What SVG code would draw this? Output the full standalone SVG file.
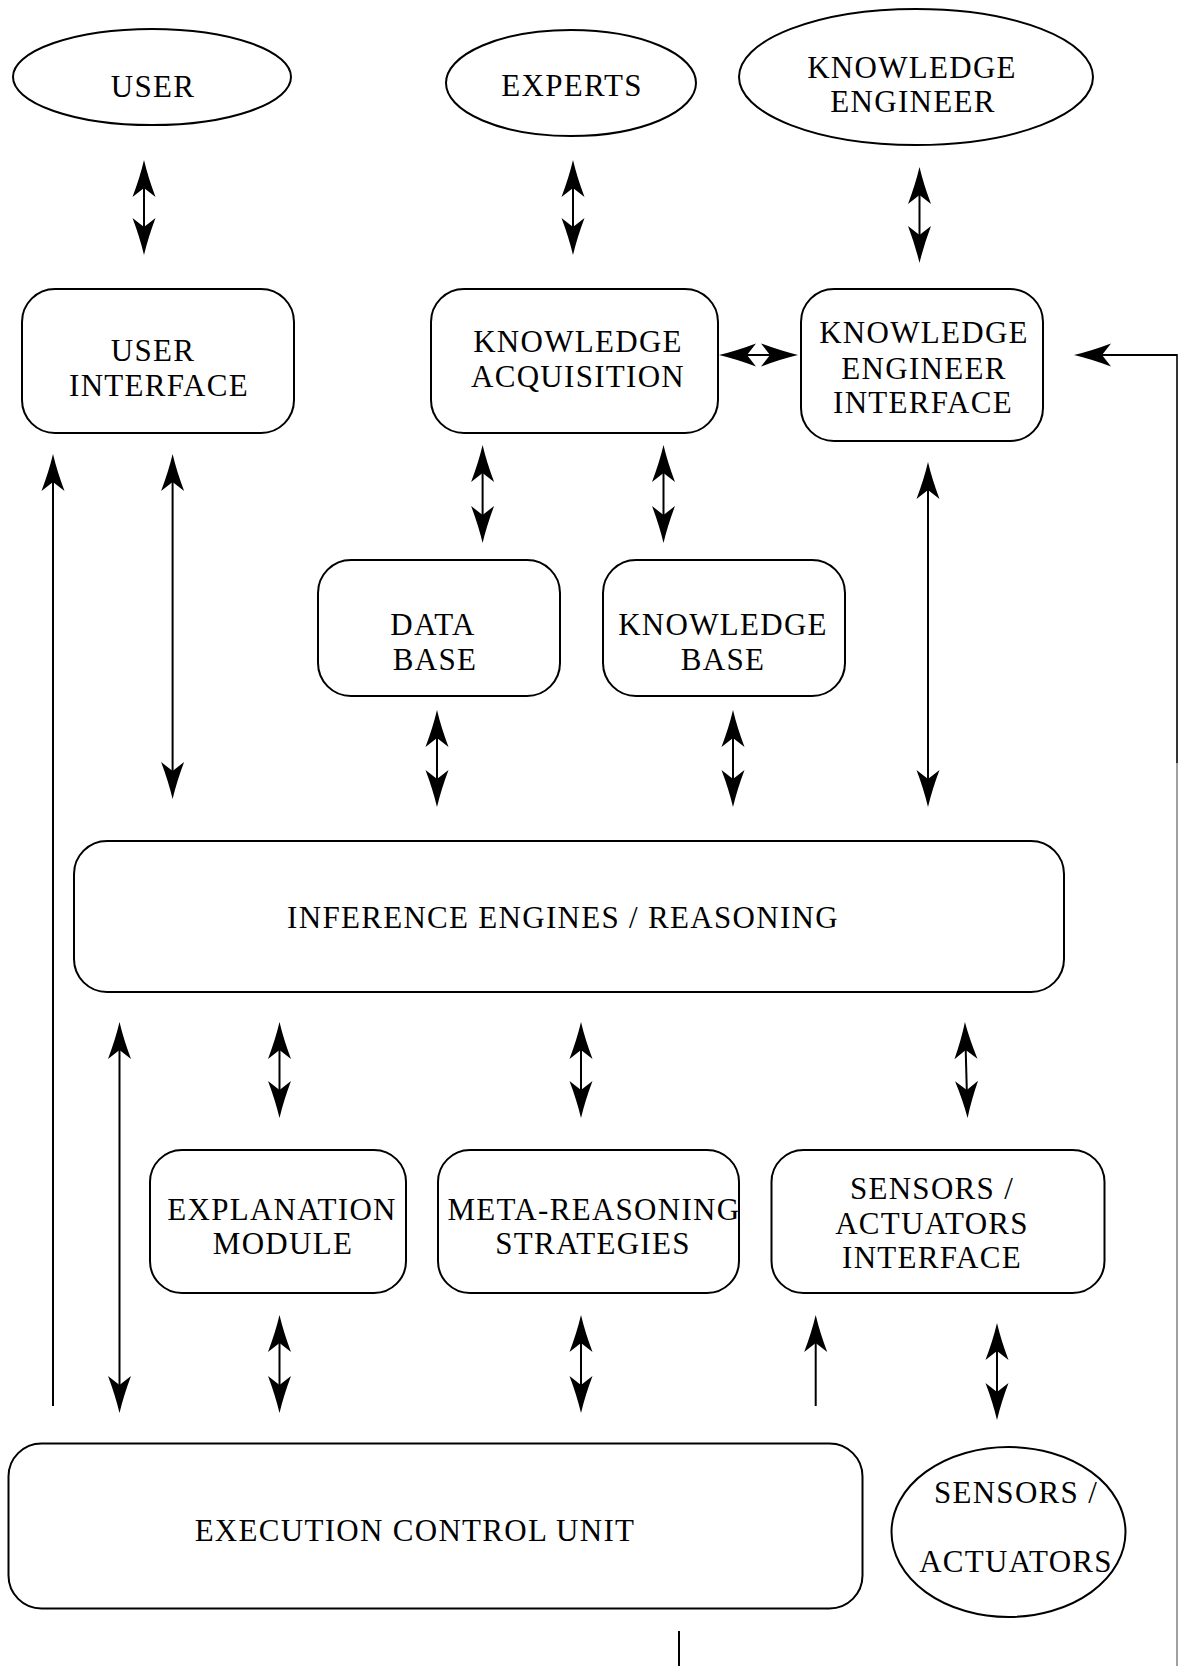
<svg xmlns="http://www.w3.org/2000/svg" width="1178" height="1666" viewBox="0 0 1178 1666">
  <style>
    .box { fill: #fff; stroke: #000; stroke-width: 2; }
    .lbl { font-family: "Liberation Serif", "Times New Roman", serif; font-size: 31px; letter-spacing: 1.3px; fill: #000; text-anchor: middle; }
    .wire { fill: none; stroke: #000; stroke-width: 2; }
    .edge { fill: none; stroke: #000; stroke-width: 1.6; }
  </style>
  <defs>
    <!-- barbed arrowhead; reference point sits in the notch, tip 28px ahead -->
    <marker id="head" markerUnits="userSpaceOnUse" markerWidth="40" markerHeight="26" refX="9" refY="13" orient="auto-start-reverse" overflow="visible">
      <path d="M37,13 Q20,9 0,1.5 L9,13 L0,24.5 Q20,17 37,13 Z" fill="#000"/>
    </marker>
  </defs>
  <rect width="1178" height="1666" fill="#fff"/>

  <!-- actors -->
  <g id="user">
    <ellipse class="box" cx="152" cy="77" rx="139" ry="48"/>
    <text class="lbl" x="153" y="97">USER</text>
  </g>
  <g id="experts">
    <ellipse class="box" cx="571" cy="83" rx="125" ry="53"/>
    <text class="lbl" x="572" y="96">EXPERTS</text>
  </g>
  <g id="knowledge-engineer">
    <ellipse class="box" cx="916" cy="77" rx="177" ry="68"/>
    <text class="lbl" x="912" y="78">KNOWLEDGE</text>
    <text class="lbl" x="913" y="112">ENGINEER</text>
  </g>

  <!-- interfaces -->
  <g id="user-interface">
    <rect class="box" x="22" y="289" width="272" height="144" rx="33"/>
    <text class="lbl" x="153" y="361">USER</text>
    <text class="lbl" x="159" y="396">INTERFACE</text>
  </g>
  <g id="knowledge-acquisition">
    <rect class="box" x="431" y="289" width="287" height="144" rx="33"/>
    <text class="lbl" x="578" y="352">KNOWLEDGE</text>
    <text class="lbl" x="578" y="387">ACQUISITION</text>
  </g>
  <g id="knowledge-engineer-interface">
    <rect class="box" x="801" y="289" width="242" height="152" rx="33"/>
    <text class="lbl" x="924" y="343">KNOWLEDGE</text>
    <text class="lbl" x="924" y="379">ENGINEER</text>
    <text class="lbl" x="923" y="413">INTERFACE</text>
  </g>

  <!-- stores -->
  <g id="data-base">
    <rect class="box" x="318" y="560" width="242" height="136" rx="33"/>
    <text class="lbl" x="433" y="635">DATA</text>
    <text class="lbl" x="435" y="670">BASE</text>
  </g>
  <g id="knowledge-base">
    <rect class="box" x="603" y="560" width="242" height="136" rx="33"/>
    <text class="lbl" x="723" y="635">KNOWLEDGE</text>
    <text class="lbl" x="723" y="670">BASE</text>
  </g>

  <g id="inference-engines">
    <rect class="box" x="74" y="841" width="990" height="151" rx="33"/>
    <text class="lbl" x="563" y="928">INFERENCE ENGINES / REASONING</text>
  </g>

  <g id="explanation-module">
    <rect class="box" x="150" y="1150" width="256" height="143" rx="32"/>
    <text class="lbl" x="282" y="1220">EXPLANATION</text>
    <text class="lbl" x="283" y="1254">MODULE</text>
  </g>
  <g id="meta-reasoning">
    <rect class="box" x="438" y="1150" width="301" height="143" rx="32"/>
    <text class="lbl" x="594" y="1220">META-REASONING</text>
    <text class="lbl" x="593" y="1254">STRATEGIES</text>
  </g>
  <g id="sensors-actuators-interface">
    <rect class="box" x="771.5" y="1150" width="333" height="143" rx="32"/>
    <text class="lbl" x="932" y="1199">SENSORS /</text>
    <text class="lbl" x="932" y="1234">ACTUATORS</text>
    <text class="lbl" x="932" y="1268">INTERFACE</text>
  </g>

  <g id="execution-control-unit">
    <rect class="box" x="8.5" y="1443.5" width="854" height="165" rx="33"/>
    <text class="lbl" x="415" y="1541">EXECUTION CONTROL UNIT</text>
  </g>
  <g id="sensors-actuators">
    <ellipse class="box" cx="1008.5" cy="1532" rx="117" ry="85"/>
    <text class="lbl" x="1016" y="1503">SENSORS /</text>
    <text class="lbl" x="1016" y="1572">ACTUATORS</text>
  </g>

  <!-- connectors -->
  <g id="connectors">
    <path class="wire" d="M144,188 L144,227" marker-start="url(#head)" marker-end="url(#head)"/>
    <path class="wire" d="M573,188 L573,227" marker-start="url(#head)" marker-end="url(#head)"/>
    <path class="wire" d="M919.5,195 L919.5,235" marker-start="url(#head)" marker-end="url(#head)"/>
    <path class="wire" d="M747,355 L770,355" marker-start="url(#head)" marker-end="url(#head)"/>

    <!-- feedback loop along the right edge into the knowledge engineer interface -->
    <path class="wire" d="M1177,355 L1102,355" marker-end="url(#head)"/>
    <path class="edge" d="M1177,354 L1177,763"/>
    <path fill="none" stroke="#888" stroke-width="1.6" d="M1177,763 L1177,1666"/>

    <path class="wire" d="M53,1406 L53,482" marker-end="url(#head)"/>
    <path class="wire" d="M172.6,482 L172.6,771" marker-start="url(#head)" marker-end="url(#head)"/>
    <path class="wire" d="M482.6,473 L482.6,515" marker-start="url(#head)" marker-end="url(#head)"/>
    <path class="wire" d="M663.5,473 L663.5,515" marker-start="url(#head)" marker-end="url(#head)"/>
    <path class="wire" d="M928,490 L928,779" marker-start="url(#head)" marker-end="url(#head)"/>
    <path class="wire" d="M437,738 L437,779" marker-start="url(#head)" marker-end="url(#head)"/>
    <path class="wire" d="M733,738 L733,779" marker-start="url(#head)" marker-end="url(#head)"/>

    <path class="wire" d="M119.5,1050 L119.5,1385" marker-start="url(#head)" marker-end="url(#head)"/>
    <path class="wire" d="M279.5,1050 L279.5,1090" marker-start="url(#head)" marker-end="url(#head)"/>
    <path class="wire" d="M581,1050 L581,1090" marker-start="url(#head)" marker-end="url(#head)"/>
    <path class="wire" d="M965.7,1050 L966.8,1090" marker-start="url(#head)" marker-end="url(#head)"/>

    <path class="wire" d="M279.5,1343 L279.5,1385" marker-start="url(#head)" marker-end="url(#head)"/>
    <path class="wire" d="M581,1343 L581,1385" marker-start="url(#head)" marker-end="url(#head)"/>
    <path class="wire" d="M815.7,1406 L815.7,1343" marker-end="url(#head)"/>
    <path class="wire" d="M997,1351 L997,1392" marker-start="url(#head)" marker-end="url(#head)"/>

    <path class="wire" d="M679,1631 L679,1666"/>
  </g>
</svg>
